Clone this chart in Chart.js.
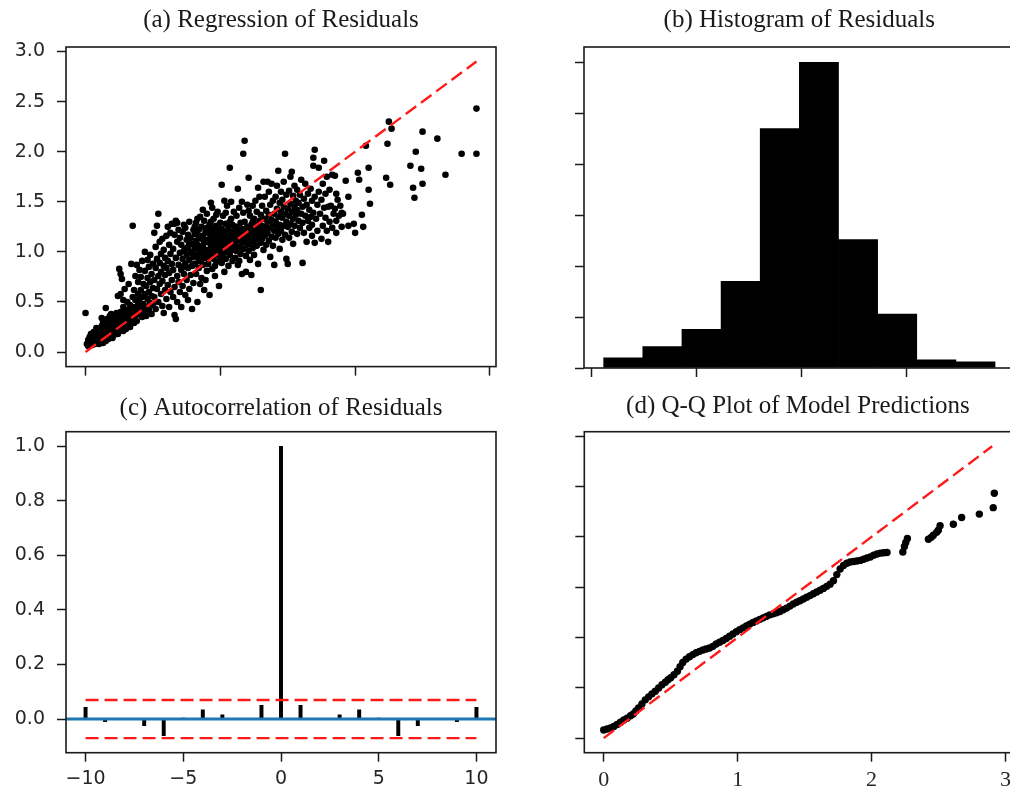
<!DOCTYPE html>
<html>
<head>
<meta charset="utf-8">
<script src="https://cdn.jsdelivr.net/npm/chart.js@4.4.1/dist/chart.umd.min.js"></script>
<style>
  html, body { margin: 0; padding: 0; background: #fff; }
  #page { position: relative; width: 1010px; height: 791px; overflow: hidden; background: #fff; }
  .panel { position: absolute; overflow: hidden; }
  canvas { display: block; }
</style>
</head>
<body>
<div id="page">
  <div class="panel" style="left:0;top:0;width:505px;height:390px"><canvas id="cA" width="505" height="390" style="width:505px;height:390px"></canvas></div>
  <div class="panel" style="left:505px;top:0;width:505px;height:390px"><canvas id="cB" width="520" height="390" style="width:520px;height:390px"></canvas></div>
  <div class="panel" style="left:0;top:390px;width:505px;height:401px"><canvas id="cC" width="505" height="401" style="width:505px;height:401px"></canvas></div>
  <div class="panel" style="left:505px;top:390px;width:505px;height:401px"><canvas id="cD" width="520" height="401" style="width:520px;height:401px"></canvas></div>
</div>
<script>
// ---------- (a) observed vs. predicted pairs ----------
const regressionPairs = [
  // 0.0 - 0.1
  [0.00,0.39],[0.01,0.08],[0.02,0.12],[0.02,0.06],[0.03,0.10],[0.03,0.15],[0.04,0.09],[0.04,0.13],[0.05,0.07],[0.05,0.17],
  [0.05,0.11],[0.06,0.14],[0.06,0.09],[0.06,0.20],[0.07,0.12],[0.07,0.16],[0.07,0.08],[0.08,0.11],[0.08,0.19],[0.08,0.14],
  [0.09,0.10],[0.09,0.17],[0.09,0.22],[0.10,0.13],[0.10,0.08],[0.10,0.19],[0.04,0.18],[0.02,0.09],[0.08,0.24],[0.06,0.12],
  // 0.1 - 0.2
  [0.11,0.15],[0.11,0.21],[0.11,0.10],[0.12,0.18],[0.12,0.26],[0.12,0.12],[0.13,0.16],[0.13,0.22],[0.13,0.30],[0.14,0.13],
  [0.14,0.19],[0.14,0.25],[0.15,0.17],[0.15,0.11],[0.15,0.28],[0.15,0.44],[0.16,0.21],[0.16,0.15],[0.16,0.33],[0.17,0.24],
  [0.17,0.18],[0.17,0.13],[0.18,0.27],[0.18,0.20],[0.18,0.36],[0.19,0.16],[0.19,0.23],[0.19,0.30],[0.20,0.19],[0.20,0.26],
  [0.20,0.14],[0.13,0.09],[0.17,0.29],[0.19,0.38],[0.12,0.34],
  // 0.2 - 0.3
  [0.21,0.22],[0.21,0.31],[0.21,0.17],[0.22,0.27],[0.22,0.35],[0.22,0.20],[0.23,0.24],[0.23,0.39],[0.23,0.30],[0.24,0.56],
  [0.24,0.18],[0.24,0.28],[0.25,0.34],[0.25,0.83],[0.25,0.22],[0.26,0.40],[0.26,0.29],[0.26,0.58],[0.27,0.25],[0.27,0.73],
  [0.27,0.36],[0.28,0.32],[0.28,0.21],[0.28,0.45],[0.29,0.27],[0.29,0.38],[0.29,0.63],[0.30,0.30],[0.30,0.23],[0.30,0.42],
  [0.26,0.78],[0.28,0.52],
  // 0.3 - 0.4
  [0.31,0.34],[0.31,0.26],[0.31,0.50],[0.32,0.40],[0.32,0.30],[0.32,0.68],[0.33,0.37],[0.33,0.47],[0.33,0.25],[0.34,0.88],
  [0.34,0.43],[0.34,0.33],[0.35,1.26],[0.35,0.55],[0.35,0.39],[0.36,0.29],[0.36,0.62],[0.36,0.45],[0.37,0.36],[0.37,0.76],
  [0.37,0.52],[0.38,0.41],[0.38,0.87],[0.38,0.31],[0.39,0.58],[0.39,0.47],[0.39,0.70],[0.40,0.38],[0.40,0.52],[0.40,0.82],
  // 0.4 - 0.5
  [0.41,0.44],[0.41,0.75],[0.41,0.62],[0.42,0.35],[0.42,0.55],[0.42,0.91],[0.43,0.48],[0.43,0.68],[0.43,0.40],[0.44,1.00],
  [0.44,0.58],[0.44,0.81],[0.45,0.45],[0.45,0.66],[0.45,0.36],[0.46,0.74],[0.46,0.53],[0.46,0.92],[0.47,0.60],[0.47,0.42],
  [0.47,0.85],[0.48,0.49],[0.48,0.70],[0.48,0.97],[0.49,0.56],[0.49,0.78],[0.49,0.38],[0.50,0.64],[0.50,0.88],[0.50,0.47],
  // 0.5 - 0.6
  [0.51,1.19],[0.51,0.72],[0.51,0.55],[0.52,0.84],[0.52,0.43],[0.52,1.05],[0.53,0.63],[0.53,0.93],[0.53,1.26],[0.54,1.38],
  [0.54,0.76],[0.54,0.50],[0.55,0.89],[0.55,0.68],[0.55,1.10],[0.56,0.58],[0.56,0.98],[0.56,0.80],[0.57,0.46],[0.57,1.13],
  [0.57,0.71],[0.58,0.86],[0.58,0.39],[0.58,1.02],[0.59,0.62],[0.59,0.94],[0.59,0.77],[0.60,1.16],[0.60,0.53],[0.60,0.84],
  // 0.6 - 0.7
  [0.61,0.67],[0.61,1.25],[0.61,0.91],[0.62,0.45],[0.62,1.07],[0.62,0.79],[0.63,0.60],[0.63,0.98],[0.63,1.19],[0.64,0.72],
  [0.64,0.88],[0.64,1.28],[0.65,0.55],[0.65,1.03],[0.65,0.82],[0.66,1.17],[0.66,0.37],[0.66,0.65],[0.67,0.94],[0.67,0.33],
  [0.67,1.31],[0.68,0.76],[0.68,1.10],[0.68,0.50],[0.69,0.87],[0.69,1.22],[0.69,0.70],[0.70,0.99],[0.70,0.60],[0.70,1.14],
  [0.66,1.28],[0.68,1.29],
  // 0.7 - 0.8
  [0.71,0.82],[0.71,1.07],[0.71,0.45],[0.72,0.93],[0.72,1.20],[0.72,0.66],[0.73,1.01],[0.73,0.78],[0.73,1.27],[0.74,1.24],
  [0.74,0.88],[0.74,0.57],[0.75,1.12],[0.75,0.97],[0.75,0.72],[0.76,1.05],[0.76,0.84],[0.76,1.17],[0.77,0.63],[0.77,0.92],
  [0.77,1.30],[0.78,1.00],[0.78,0.77],[0.78,1.14],[0.79,0.86],[0.79,0.43],[0.79,1.08],[0.80,0.95],[0.80,1.22],[0.80,0.69],
  [0.74,1.03],[0.77,1.09],[0.79,0.99],[0.72,0.85],[0.76,0.52],
  // 0.8 - 0.9
  [0.81,1.04],[0.81,0.88],[0.81,1.18],[0.82,0.78],[0.82,1.11],[0.82,1.29],[0.83,0.96],[0.83,0.50],[0.83,1.07],[0.84,1.22],
  [0.84,0.84],[0.84,1.00],[0.85,1.14],[0.85,0.92],[0.85,1.35],[0.86,1.05],[0.86,0.74],[0.86,1.25],[0.87,0.98],[0.87,1.16],
  [0.87,0.87],[0.88,1.09],[0.88,1.31],[0.88,0.62],[0.89,1.02],[0.89,1.20],[0.89,0.94],[0.90,1.12],[0.90,0.81],[0.90,1.38],
  [0.82,0.97],[0.83,1.17],[0.84,0.91],[0.85,1.05],[0.86,1.13],[0.87,1.06],[0.88,0.99],[0.89,1.10],[0.90,1.24],[0.85,0.68],
  [0.87,1.42],[0.83,1.33],[0.89,0.72],[0.86,0.92],[0.81,1.25],
  // 0.9 - 1.0
  [0.91,1.01],[0.91,1.19],[0.91,0.88],[0.92,1.09],[0.92,0.57],[0.92,1.27],[0.93,0.96],[0.93,1.14],[0.93,1.49],[0.94,1.04],
  [0.94,0.83],[0.94,1.22],[0.95,1.11],[0.95,0.93],[0.95,1.33],[0.96,1.00],[0.96,1.17],[0.96,0.76],[0.97,1.08],[0.97,1.26],
  [0.97,0.90],[0.98,1.13],[0.98,0.98],[0.98,1.40],[0.99,1.05],[0.99,0.66],[0.99,1.21],[1.00,0.94],[1.00,1.10],[1.00,1.29],
  [1.01,1.67],[0.92,1.18],[0.93,1.06],[0.94,0.98],[0.95,1.18],[0.96,1.10],[0.97,1.15],[0.98,1.05],[0.99,1.12],[0.94,1.44],
  [0.97,1.37],[0.91,0.95],[0.96,0.86],[0.93,1.30],[0.99,0.97],[1.00,1.02],[0.95,1.24],[0.98,1.19],
  // 1.0 - 1.1
  [1.01,1.07],[1.01,1.23],[1.01,0.89],[1.02,1.15],[1.02,0.98],[1.02,1.36],[1.03,1.04],[1.03,1.19],[1.03,0.80],[1.04,1.28],
  [1.04,1.11],[1.04,0.93],[1.05,1.16],[1.05,1.00],[1.05,1.46],[1.06,1.09],[1.06,1.24],[1.06,0.86],[1.07,1.84],[1.07,1.13],
  [1.07,0.97],[1.08,1.20],[1.08,1.05],[1.08,1.33],[1.09,0.91],[1.09,1.14],[1.09,1.27],[1.10,1.02],[1.10,1.18],[1.10,1.40],
  [1.02,1.08],[1.03,1.12],[1.04,1.20],[1.05,1.08],[1.06,1.17],[1.07,1.06],[1.08,1.12],[1.09,1.20],[1.10,1.10],[1.06,1.00],
  [1.03,1.51],[1.08,1.50],[1.04,1.39],[1.01,1.16],[1.07,1.30],
  // 1.1 - 1.2
  [1.11,1.08],[1.11,1.25],[1.11,0.94],[1.12,1.16],[1.12,1.01],[1.12,1.36],[1.13,1.63],[1.13,1.12],[1.13,0.87],[1.14,1.21],
  [1.14,1.05],[1.14,1.44],[1.15,1.14],[1.15,0.98],[1.15,1.29],[1.16,1.09],[1.16,1.23],[1.16,0.78],[1.17,1.98],[1.17,1.17],
  [1.17,1.03],[1.18,2.11],[1.18,1.30],[1.18,1.11],[1.19,0.96],[1.19,1.20],[1.19,0.80],[1.20,1.07],[1.20,1.25],[1.20,1.47],
  [1.21,1.74],[1.12,1.25],[1.15,1.20],[1.17,1.39],[1.19,1.13],[1.14,0.91],[1.16,1.50],[1.13,1.19],
  // 1.2 - 1.3
  [1.21,1.15],[1.21,1.01],[1.22,1.21],[1.22,1.36],[1.22,0.92],[1.23,1.10],[1.23,1.27],[1.23,0.77],[1.24,1.16],[1.24,1.46],
  [1.24,1.04],[1.25,1.23],[1.25,1.33],[1.25,0.97],[1.26,1.12],[1.26,1.51],[1.26,1.27],[1.27,1.19],[1.27,1.06],[1.27,1.40],
  [1.28,1.25],[1.28,1.13],[1.28,0.88],[1.29,1.31],[1.29,1.55],[1.29,1.18],[1.30,0.62],[1.30,1.22],[1.30,1.09],[1.30,1.37],
  [1.24,1.30],[1.26,1.20],[1.28,1.64],[1.21,1.41],[1.25,1.08],
  // 1.3 - 1.4
  [1.31,1.26],[1.31,1.13],[1.31,1.46],[1.32,1.70],[1.32,1.20],[1.32,1.02],[1.33,1.33],[1.33,1.16],[1.33,1.55],[1.34,1.25],
  [1.34,1.07],[1.34,1.41],[1.35,1.70],[1.35,1.19],[1.35,1.30],[1.36,1.37],[1.36,1.11],[1.36,1.60],[1.37,1.24],[1.37,0.95],
  [1.37,1.47],[1.38,1.32],[1.38,1.15],[1.38,1.68],[1.39,1.28],[1.39,1.06],[1.39,1.51],[1.40,1.21],[1.40,1.38],[1.40,0.87],
  // 1.4 - 1.5
  [1.41,1.30],[1.41,1.14],[1.41,1.55],[1.42,1.43],[1.42,1.24],[1.42,1.66],[1.43,1.81],[1.43,1.18],[1.43,1.35],[1.44,1.49],
  [1.44,1.27],[1.44,1.03],[1.45,1.40],[1.45,1.60],[1.45,1.21],[1.46,1.34],[1.46,1.12],[1.46,1.52],[1.47,1.45],[1.47,1.26],
  [1.47,1.70],[1.48,1.38],[1.48,1.98],[1.48,1.17],[1.49,1.30],[1.49,1.57],[1.49,0.93],[1.50,1.43],[1.50,0.88],[1.50,1.25],
  // 1.5 - 1.6
  [1.51,1.36],[1.51,1.61],[1.51,1.14],[1.52,1.48],[1.52,1.28],[1.52,1.75],[1.53,1.80],[1.53,1.40],[1.53,1.20],[1.54,1.33],
  [1.54,1.56],[1.54,1.08],[1.55,1.45],[1.55,1.26],[1.55,1.66],[1.56,1.37],[1.56,1.51],[1.57,1.18],[1.57,1.42],[1.57,1.62],
  [1.58,1.31],[1.58,1.49],[1.59,1.24],[1.59,1.57],[1.60,1.38],[1.61,0.89],[1.60,1.72],
  // 1.6 - 1.7
  [1.61,1.45],[1.61,1.29],[1.62,1.53],[1.62,1.19],[1.63,1.68],[1.63,1.36],[1.64,1.47],[1.64,1.10],[1.65,1.58],[1.65,1.31],
  [1.66,1.42],[1.66,1.24],[1.67,1.63],[1.67,1.35],[1.68,1.51],[1.68,1.16],[1.69,1.86],[1.69,1.39],[1.70,1.09],[1.70,1.55],
  [1.70,2.02],[1.69,1.94],[1.68,1.27],
  // 1.7 - 1.8
  [1.71,1.33],[1.72,1.47],[1.72,1.21],[1.73,1.84],[1.73,1.60],[1.74,1.38],[1.75,1.13],[1.75,1.52],[1.76,1.26],[1.76,1.68],
  [1.77,1.91],[1.77,1.44],[1.78,1.34],[1.78,1.58],[1.79,1.21],[1.80,1.45],[1.80,1.10],[1.79,1.75],
  // 1.8 - 1.9
  [1.81,1.30],[1.81,1.62],[1.82,1.46],[1.83,1.77],[1.83,1.24],[1.84,1.38],[1.85,1.43],[1.85,1.76],[1.86,1.31],[1.86,1.58],
  [1.86,1.19],[1.87,1.52],[1.88,1.36],[1.89,1.46],[1.90,1.39],[1.90,1.25],
  // 1.9 - 2.1
  [1.93,1.71],[1.95,1.55],[1.95,1.26],[1.99,1.28],[2.00,1.19],[2.02,1.79],[2.03,1.72],[2.05,1.37],[2.06,1.25],[2.08,2.06],
  [2.10,1.84],[2.10,1.62],[2.11,1.48],[1.91,1.38],
  // upper tail
  [2.23,1.74],[2.24,2.08],[2.25,2.30],[2.26,1.67],[2.27,2.23],[2.41,1.86],[2.43,1.64],[2.44,1.54],[2.45,2.00],[2.49,1.83],
  [2.50,2.20],[2.50,1.68],[2.61,2.13],[2.67,1.77],[2.79,1.98],[2.90,1.98],[2.90,2.43]
];
const identityLine = [0, 2.9];
const regTicksX = [0, 1, 2, 3];
const regTicksY = [0, 0.5, 1.0, 1.5, 2.0, 2.5, 3.0];

// ---------- (b) residual histogram ----------
const binEdges = [-0.941, -0.755, -0.568, -0.382, -0.195, -0.009, 0.178, 0.364, 0.551, 0.737, 0.924];
const binCounts = [10, 21, 38, 85, 235, 300, 126, 53, 8, 6];
const histTicksX = [-1.0, -0.5, 0, 0.5, 1.0];
const histTicksY = [0, 50, 100, 150, 200, 250, 300];

// ---------- (c) autocorrelation ----------
const lags = [-10, -9, -8, -7, -6, -5, -4, -3, -2, -1, 0, 1, 2, 3, 4, 5, 6, 7, 8, 9, 10];
const acfValues = [0.043, -0.010, 0.002, -0.024, -0.061, 0.003, 0.034, 0.015, -0.002, 0.050, 1.000,
                   0.050, -0.002, 0.015, 0.034, 0.003, -0.061, -0.024, 0.002, -0.010, 0.043];
const confBand = 0.07;
const acfTicksX = [-10, -5, 0, 5, 10];
const acfTicksY = [0, 0.2, 0.4, 0.6, 0.8, 1.0];

// ---------- (d) Q-Q plot ----------
const qqTheoretical = [
  0.000,0.025,0.050,0.075,0.100,0.125,0.150,0.175,0.200,0.220,0.240,0.260,0.285,0.310,0.335,0.360,0.385,0.410,0.435,0.460,
  0.480,0.500,0.525,0.550,0.570,0.590,0.615,0.640,0.665,0.690,0.715,0.740,0.765,0.790,0.815,0.840,0.865,0.890,0.915,0.940,
  0.965,0.990,1.015,1.040,1.065,1.090,1.115,1.140,1.165,1.190,1.215,1.240,1.265,1.290,1.315,1.340,1.365,1.390,1.415,1.440,
  1.465,1.490,1.515,1.540,1.565,1.590,1.615,1.640,1.665,1.690,1.715,1.740,1.765,1.790,1.815,1.840,1.865,1.890,1.915,1.940,
  1.965,1.990,2.015,2.040,2.065,2.090,2.115,
  2.233,2.245,2.255,2.267,2.424,2.445,2.461,2.485,2.498,2.511,2.610,2.672,2.804,2.908,2.916
];
const qqSample = [
  0.080,0.090,0.102,0.115,0.135,0.158,0.180,0.198,0.222,0.240,0.270,0.300,0.340,0.380,0.410,0.440,0.465,0.498,0.530,0.555,
  0.580,0.600,0.630,0.665,0.710,0.752,0.785,0.808,0.830,0.848,0.862,0.875,0.885,0.896,0.912,0.935,0.952,0.970,0.990,1.012,
  1.035,1.058,1.078,1.095,1.115,1.133,1.150,1.165,1.180,1.195,1.210,1.225,1.235,1.245,1.258,1.275,1.292,1.312,1.332,1.350,
  1.365,1.382,1.400,1.416,1.435,1.452,1.470,1.488,1.508,1.530,1.565,1.625,1.680,1.715,1.738,1.750,1.755,1.760,1.766,1.778,
  1.790,1.800,1.818,1.830,1.838,1.842,1.845,
  1.850,1.905,1.945,1.983,1.976,1.995,2.016,2.045,2.066,2.110,2.126,2.193,2.226,2.290,2.433
];
const qqTicksX = [0, 1, 2, 3];
const qqTicksY = [0, 0.5, 1.0, 1.5, 2.0, 2.5, 3.0];

// ---------- shared styling ----------
const INK = '#1a1a1a';
const LABEL = '#262626';
const RED = '#ff1a1a';
const SANS = { family: "'DejaVu Sans', sans-serif", size: 19 };
const SERIF_TICKS = { family: "'Liberation Serif', serif", size: 22 };
const DASH = [13, 6];

// draws the four-sided axes frame above the data
const framePlugin = {
  id: 'frame',
  afterDatasetsDraw(chart) {
    const { ctx, chartArea: a } = chart;
    ctx.save();
    ctx.strokeStyle = INK;
    ctx.lineWidth = 1.6;
    ctx.strokeRect(a.left, a.top, a.right - a.left, a.bottom - a.top);
    ctx.restore();
  }
};

function linearAxis(cfg) {
  return {
    type: 'linear',
    position: cfg.position,
    min: cfg.min,
    max: cfg.max,
    bounds: 'data',
    offset: false,
    grid: {
      display: true, drawOnChartArea: false, drawTicks: true, offset: false,
      tickLength: 9, tickWidth: 1.5, tickColor: INK
    },
    border: { display: false },
    ticks: {
      display: !!cfg.format,
      callback: cfg.format || (() => ''),
      font: cfg.font || SANS,
      color: LABEL,
      padding: cfg.padding !== undefined ? cfg.padding : 6,
      autoSkip: false, maxRotation: 0, minRotation: 0
    },
    afterBuildTicks: s => { s.ticks = cfg.ticks.map(v => ({ value: v })); },
    afterFit: s => {
      if (cfg.width !== undefined) s.width = cfg.width;
      if (cfg.height !== undefined) s.height = cfg.height;
    }
  };
}

function titleOpts(text, top, bottom) {
  return {
    display: true, text, fullSize: false, color: INK,
    font: { family: "'Liberation Serif', serif", size: 25, weight: 'normal', lineHeight: 1.2 },
    padding: { top, bottom }
  };
}

function baseOptions(title, padRight, scales) {
  return {
    responsive: false,
    animation: false,
    devicePixelRatio: 1,
    layout: { padding: { left: 0, right: padRight, top: 0, bottom: 0 }, autoPadding: false },
    plugins: { legend: { display: false }, tooltip: { enabled: false }, title },
    scales
  };
}

const oneDecimal = v => v.toFixed(1);
const signed = v => (v < 0 ? '\u2212' + Math.abs(v) : String(v));

// (a) Regression of Residuals
new Chart(document.getElementById('cA'), {
  type: 'scatter',
  data: {
    datasets: [
      { data: identityLine.map(v => ({ x: v, y: v })), showLine: true, borderColor: RED,
        borderWidth: 2.4, borderDash: DASH, pointRadius: 0, fill: false },
      { data: regressionPairs.map(([x, y]) => ({ x, y })), showLine: false, pointRadius: 3.3,
        pointBackgroundColor: '#000', pointBorderWidth: 0, pointHoverRadius: 3.3 }
    ]
  },
  options: baseOptions(titleOpts('(a) Regression of Residuals', 5.7, 11.3), 9, {
    x: linearAxis({ position: 'bottom', min: -0.145, max: 3.045, ticks: regTicksX, height: 22 }),
    y: linearAxis({ position: 'left', min: -0.145, max: 3.045, ticks: regTicksY, width: 66, padding: 12, format: oneDecimal })
  }),
  plugins: [framePlugin]
});

// (b) Histogram of Residuals
new Chart(document.getElementById('cB'), {
  type: 'bar',
  data: {
    datasets: [{
      data: binCounts.map((c, i) => ({ x: (binEdges[i] + binEdges[i + 1]) / 2, y: c })),
      backgroundColor: '#000', borderWidth: 0, barPercentage: 1, categoryPercentage: 1
    }]
  },
  options: baseOptions(titleOpts('(b) Histogram of Residuals', 5.7, 11.3), 10.4, {
    x: linearAxis({ position: 'bottom', min: -1.035, max: 1.017, ticks: histTicksX, height: 22 }),
    y: linearAxis({ position: 'left', min: 0, max: 315, ticks: histTicksY, width: 79 })
  }),
  plugins: [framePlugin]
});

// (c) Autocorrelation of Residuals
new Chart(document.getElementById('cC'), {
  type: 'bar',
  data: {
    datasets: [
      { type: 'line', data: [{ x: lags[0], y: confBand }, { x: lags[lags.length - 1], y: confBand }],
        borderColor: RED, borderWidth: 2.4, borderDash: DASH, pointRadius: 0, fill: false },
      { type: 'line', data: [{ x: lags[0], y: -confBand }, { x: lags[lags.length - 1], y: -confBand }],
        borderColor: RED, borderWidth: 2.4, borderDash: DASH, pointRadius: 0, fill: false },
      { type: 'line', data: [{ x: -11, y: 0 }, { x: 11, y: 0 }],
        borderColor: '#1f77b4', borderWidth: 3, pointRadius: 0, fill: false },
      { type: 'bar', data: lags.map((l, i) => ({ x: l, y: acfValues[i] })),
        backgroundColor: '#000', borderWidth: 0, barThickness: 3.3 }
    ]
  },
  options: baseOptions(titleOpts('(c) Autocorrelation of Residuals', 3.3, 8.4), 9, {
    x: linearAxis({ position: 'bottom', min: -11, max: 11, ticks: acfTicksX, height: 38.3, padding: 6, format: signed }),
    y: linearAxis({ position: 'left', min: -0.1235, max: 1.0535, ticks: acfTicksY, width: 66, padding: 12, format: oneDecimal })
  }),
  plugins: [framePlugin]
});

// (d) Q-Q Plot of Model Predictions
new Chart(document.getElementById('cD'), {
  type: 'scatter',
  data: {
    datasets: [
      { data: identityLine.map(v => ({ x: v, y: v })), showLine: true, borderColor: RED,
        borderWidth: 2.4, borderDash: DASH, pointRadius: 0, fill: false },
      { data: qqTheoretical.map((x, i) => ({ x, y: qqSample[i] })), showLine: false, pointRadius: 3.7,
        pointBackgroundColor: '#000', pointBorderWidth: 0, pointHoverRadius: 3.7 }
    ]
  },
  options: baseOptions(titleOpts('(d) Q-Q Plot of Model Predictions', 1.7, 10.0), 13.4, {
    x: linearAxis({ position: 'bottom', min: -0.145, max: 3.045, ticks: qqTicksX, height: 38.3, padding: 5,
                    format: v => String(v), font: SERIF_TICKS }),
    y: linearAxis({ position: 'left', min: -0.145, max: 3.045, ticks: qqTicksY, width: 79.3 })
  }),
  plugins: [framePlugin]
});
</script>
</body>
</html>
